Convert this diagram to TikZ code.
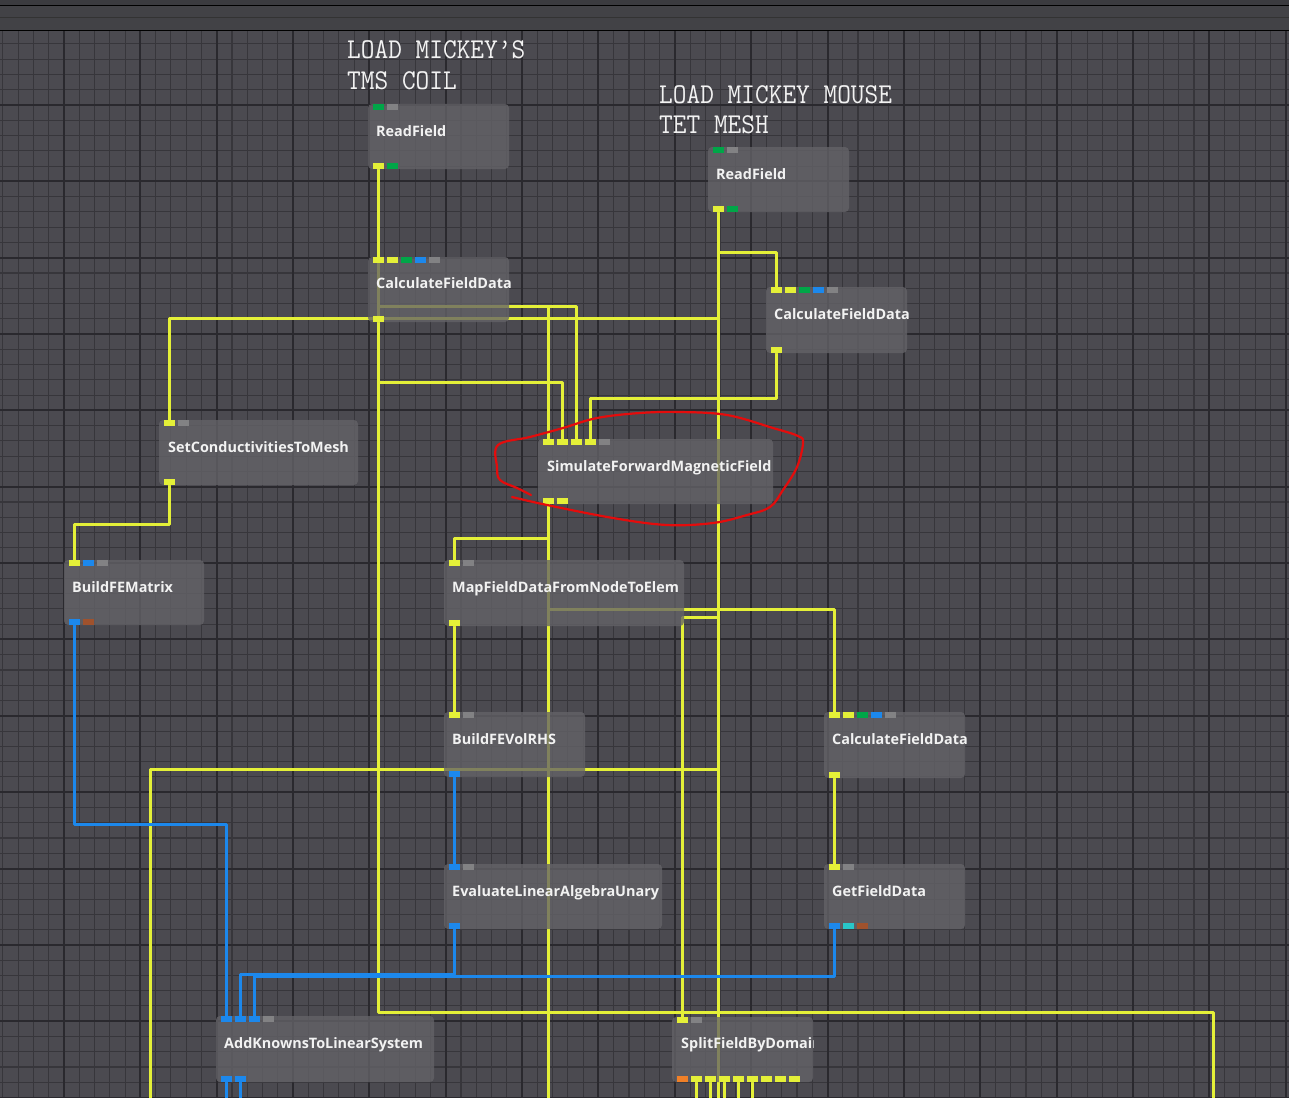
\documentclass[tikz,border=0pt]{standalone}
\usepackage{fontspec}
\setmainfont{Open Sans}
\pgfdeclarelayer{bg}
\pgfdeclarelayer{wires}
\pgfsetlayers{bg,wires,main}
\definecolor{bgc}{RGB}{75,74,80}
\definecolor{minorc}{RGB}{55,54,59}
\definecolor{majorc}{RGB}{42,41,46}
\definecolor{barc}{RGB}{66,66,70}
\definecolor{boxc}{RGB}{100,99,104}
\definecolor{yel}{RGB}{228,240,56}
\definecolor{blu}{RGB}{28,136,236}
\definecolor{grn}{RGB}{0,166,72}
\definecolor{gry}{RGB}{130,130,132}
\definecolor{brn}{RGB}{160,82,45}
\definecolor{cya}{RGB}{40,198,200}
\definecolor{org}{RGB}{240,128,40}
\definecolor{redc}{RGB}{228,12,12}
\definecolor{labc}{RGB}{242,242,242}
\tikzset{
  box/.style={anchor=north west, fill=boxc, fill opacity=0.78, draw=none, rounded corners=4pt, inner sep=0pt, outer sep=0pt},
  port/.style={anchor=north west, minimum width=11pt, minimum height=6pt, inner sep=0pt, outer sep=0pt, fill=#1, draw=none},
  lab/.style={anchor=base west, text=labc, inner sep=0pt, font=\bfseries\fontsize{14.4}{15}\selectfont},
  ttl/.style={anchor=base west, text=labc, inner sep=0pt, font=\ttfamily\fontsize{26.6}{27}\selectfont},
  yl/.style={draw=yel, line width=3pt, line join=round},
  bl/.style={draw=blu, line width=3pt, line join=round},
  minorl/.style={draw=minorc, line width=1.1pt},
  majorl/.style={draw=majorc, line width=2pt},
}
\begin{document}
\begin{tikzpicture}[x=1pt,y=-1pt]
\useasboundingbox (0,0) rectangle (1289,1097);
\begin{pgfonlayer}{bg}
  \fill[bgc] (0,0) rectangle (1289,1097);
  \foreach \i in {0,...,84} \draw[minorl] ({2.9+\i*15.27},31) -- ({2.9+\i*15.27},1097);
  \foreach \j in {1,...,70} \draw[minorl] (0,{28.65+\j*15.27}) -- (1289,{28.65+\j*15.27});
  \foreach \k in {-1,...,16} \draw[majorl] ({64+\k*76.35},31) -- ({64+\k*76.35},1097);
  \foreach \k in {0,...,13} \draw[majorl] (0,{105+\k*76.35}) -- (1289,{105+\k*76.35});
  \fill[barc] (0,0) rectangle (1289,31);
  \fill[black!10!barc] (0,0) rectangle (1289,5);
  \draw[black, line width=1.2pt] (0,5.5) -- (1289,5.5);
  \draw[black!80, line width=1.4pt] (0,17.7) -- (1289,17.7);
  \draw[black, line width=1.6pt] (0,30.5) -- (1289,30.5);
\end{pgfonlayer}

% titles
\node[ttl] (t1a) at (347,59) {\scalebox{1}[1.08]{LOAD MICKEY’S}};
\node[ttl] (t1b) at (347,90) {\scalebox{1}[1.08]{TMS COIL}};
\node[ttl] (t2a) at (659,103) {\scalebox{1}[1.08]{LOAD MICKEY MOUSE}};
\node[ttl] (t2b) at (659,133) {\scalebox{1}[1.08]{TET MESH}};

% boxes
\node[box, minimum width=141pt, minimum height=65pt] (rf1) at (368,104) {};
\node[box, minimum width=141pt, minimum height=65pt] (cfd1) at (368,257) {};
\node[box, minimum width=141pt, minimum height=65pt] (rf2) at (708,147) {};
\node[box, minimum width=141pt, minimum height=66pt] (cfd2) at (766,287) {};
\node[box, minimum width=235pt, minimum height=65pt] (sfmf) at (538,439) {};
\node[box, minimum width=199pt, minimum height=65pt] (scm) at (159,420) {};
\node[box, minimum width=140pt, minimum height=65pt] (bfm) at (64,560) {};
\node[box, minimum width=240pt, minimum height=66pt] (map) at (444,560) {};
\node[box, minimum width=141pt, minimum height=65pt] (rhs) at (444,712) {};
\node[box, minimum width=141pt, minimum height=66pt] (cfd3) at (824,712) {};
\node[box, minimum width=141pt, minimum height=65pt] (gfd) at (824,864) {};
\node[box, minimum width=218pt, minimum height=65pt] (ela) at (444,864) {};
\node[box, minimum width=218pt, minimum height=66pt] (akl) at (216,1016) {};
\node[box, minimum width=141pt, minimum height=65pt] (sfd) at (672,1017) {};

% labels
\node[lab] (rf1t) at (376,136) {ReadField};
\node[lab] (cfd1t) at (376,288) {CalculateFieldData};
\node[lab] (rf2t) at (716,179) {ReadField};
\node[lab] (cfd2t) at (774,319) {CalculateFieldData};
\node[lab] (sfmft) at (547,471) {SimulateForwardMagneticField};
\node[lab] (scmt) at (168,452) {SetConductivitiesToMesh};
\node[lab] (bfmt) at (72,592) {BuildFEMatrix};
\node[lab] (mapt) at (452,592) {MapFieldDataFromNodeToElem};
\node[lab] (rhst) at (452,744) {BuildFEVolRHS};
\node[lab] (cfd3t) at (832,744) {CalculateFieldData};
\node[lab] (gfdt) at (832,896) {GetFieldData};
\node[lab] (elat) at (452,896) {EvaluateLinearAlgebraUnary};
\node[lab] (aklt) at (224,1048) {AddKnownsToLinearSystem};
\begin{scope}
  \clip (672,1017) rectangle (813,1082);
  \node[lab] (sfdt) at (681,1048) {SplitFieldByDomain};
\end{scope}

% ports
\node[port=grn] (rf1i1) at (373,104) {};
\node[port=gry] (rf1i2) at (387,104) {};
\node[port=yel] (rf1o1) at (373,163) {};
\node[port=grn] (rf1o2) at (387,163) {};

\node[port=yel] (cfd1i1) at (373,257) {};
\node[port=yel] (cfd1i2) at (387,257) {};
\node[port=grn] (cfd1i3) at (401,257) {};
\node[port=blu] (cfd1i4) at (415,257) {};
\node[port=gry] (cfd1i5) at (429,257) {};
\node[port=yel] (cfd1o1) at (373,316) {};

\node[port=grn] (rf2i1) at (713,147) {};
\node[port=gry] (rf2i2) at (727,147) {};
\node[port=yel] (rf2o1) at (713,206) {};
\node[port=grn] (rf2o2) at (727,206) {};

\node[port=yel] (cfd2i1) at (771,287) {};
\node[port=yel] (cfd2i2) at (785,287) {};
\node[port=grn] (cfd2i3) at (799,287) {};
\node[port=blu] (cfd2i4) at (813,287) {};
\node[port=gry] (cfd2i5) at (827,287) {};
\node[port=yel] (cfd2o1) at (771,347) {};

\node[port=yel] (sfi1) at (543,439) {};
\node[port=yel] (sfi2) at (557,439) {};
\node[port=yel] (sfi3) at (571,439) {};
\node[port=yel] (sfi4) at (585,439) {};
\node[port=gry] (sfi5) at (599,439) {};
\node[port=yel] (sfo1) at (543,498) {};
\node[port=yel] (sfo2) at (557,498) {};

\node[port=yel] (scmi1) at (164,420) {};
\node[port=gry] (scmi2) at (178,420) {};
\node[port=yel] (scmo1) at (164,479) {};

\node[port=yel] (bfmi1) at (69,560) {};
\node[port=blu] (bfmi2) at (83,560) {};
\node[port=gry] (bfmi3) at (97,560) {};
\node[port=blu] (bfmo1) at (69,619) {};
\node[port=brn] (bfmo2) at (83,619) {};

\node[port=yel] (mapi1) at (449,560) {};
\node[port=gry] (mapi2) at (463,560) {};
\node[port=yel] (mapo1) at (449,620) {};

\node[port=yel] (rhsi1) at (449,712) {};
\node[port=gry] (rhsi2) at (463,712) {};
\node[port=blu] (rhso1) at (449,771) {};

\node[port=yel] (cfd3i1) at (829,712) {};
\node[port=yel] (cfd3i2) at (843,712) {};
\node[port=grn] (cfd3i3) at (857,712) {};
\node[port=blu] (cfd3i4) at (871,712) {};
\node[port=gry] (cfd3i5) at (885,712) {};
\node[port=yel] (cfd3o1) at (829,772) {};

\node[port=yel] (gfdi1) at (829,864) {};
\node[port=gry] (gfdi2) at (843,864) {};
\node[port=blu] (gfdo1) at (829,923) {};
\node[port=cya] (gfdo2) at (843,923) {};
\node[port=brn] (gfdo3) at (857,923) {};

\node[port=blu] (elai1) at (449,864) {};
\node[port=gry] (elai2) at (463,864) {};
\node[port=blu] (elao1) at (449,923) {};

\node[port=blu] (akli1) at (221,1016) {};
\node[port=blu] (akli2) at (235,1016) {};
\node[port=blu] (akli3) at (249,1016) {};
\node[port=gry] (akli4) at (263,1016) {};
\node[port=blu] (aklo1) at (221,1076) {};
\node[port=blu] (aklo2) at (235,1076) {};

\node[port=yel] (sfdi1) at (677,1017) {};
\node[port=gry] (sfdi2) at (691,1017) {};
\node[port=org] (sfdo0) at (677,1076) {};
\node[port=yel] (sfdo1) at (691,1076) {};
\node[port=yel] (sfdo2) at (705,1076) {};
\node[port=yel] (sfdo3) at (719,1076) {};
\node[port=yel] (sfdo4) at (733,1076) {};
\node[port=yel] (sfdo5) at (747,1076) {};
\node[port=yel] (sfdo6) at (761,1076) {};
\node[port=yel] (sfdo7) at (775,1076) {};
\node[port=yel] (sfdo8) at (789,1076) {};

% helper levels and free ends
\coordinate (bot) at (0,1100);
\coordinate (e1) at (1213.5,1100);
\coordinate (e4) at (150,1100);
\coordinate (h252) at (0,252);
\coordinate (h306) at (0,306.5);
\coordinate (h318) at (0,318.5);
\coordinate (h382) at (0,382);
\coordinate (h398) at (0,398);
\coordinate (h524) at (0,524);
\coordinate (h538) at (0,538);
\coordinate (h609) at (0,609.5);
\coordinate (h617) at (0,617);
\coordinate (h769) at (0,769);
\coordinate (h824) at (0,824);
\coordinate (h974) at (0,974.5);
\coordinate (h977) at (0,976.5);
\coordinate (h1013) at (0,1012.5);

\begin{pgfonlayer}{wires}
  \draw[yl] (rf1o1.center) -- (cfd1i1.center);
  \draw[yl] (rf1o1.center) -- (rf1o1.center |- h1013) -| (e1);
  \draw[yl] (rf1o1.center |- h382) -| (sfi2.center);
  \draw[yl] (rf1o1.center |- h306) -| (sfi3.center);
  \draw[yl] (sfi1.center |- h306) -- (sfi1.center);
  \draw[yl] (rf2o1.center) -- (rf2o1.center |- bot);
  \draw[yl] (rf2o1.center |- h318) -| (scmi1.center);
  \draw[yl] (rf2o1.center |- h252) -| (cfd2i1.center);
  \draw[yl] (cfd2o1.center) -- (cfd2o1.center |- h398) -| (sfi4.center);
  \draw[yl] (sfo1.center) -- (sfo1.center |- bot);
  \draw[yl] (sfo1.center |- h538) -| (mapi1.center);
  \draw[yl] (mapo1.center) -- (rhsi1.center);
  \draw[yl] (sfo1.center |- h609) -| (cfd3i1.center);
  \draw[yl] (rf2o1.center |- h617) -| (sfdi1.center);
  \draw[yl] (rf2o1.center |- h769) -| (e4);
  \draw[yl] (cfd3o1.center) -- (gfdi1.center);
  \draw[yl] (scmo1.center) -- (scmo1.center |- h524) -| (bfmi1.center);
  \foreach \p in {sfdo1,sfdo2,sfdo3,sfdo4,sfdo5}
    \draw[yl] (\p.center) -- (\p.center |- bot);
  \draw[bl] (bfmo1.center) -- (bfmo1.center |- h824) -| (akli1.center);
  \draw[bl] (rhso1.center) -- (elai1.center);
  \draw[bl] (elao1.center) -- (elao1.center |- h974) -| (akli2.center);
  \draw[bl] (gfdo1.center) -- (gfdo1.center |- h977) -| (akli3.center);
  \draw[bl] (aklo1.center) -- (aklo1.center |- bot);
  \draw[bl] (aklo2.center) -- (aklo2.center |- bot);
\end{pgfonlayer}

% hand-drawn red mark
\draw[redc, line width=2.2pt, line cap=round, line join=round] plot[smooth, tension=0.6] coordinates {
  (512,497) (547,505) (613,518) (667,525) (713,523) (747,515) (770,507) (783,490)
  (797,467) (803,443) (798,436) (773,428) (727,415) (680,412) (640,413) (597,418)
  (563,428) (530,437) (498,445) (497,467) (500,480) (517,488) (531,495)};
\end{tikzpicture}
\end{document}
